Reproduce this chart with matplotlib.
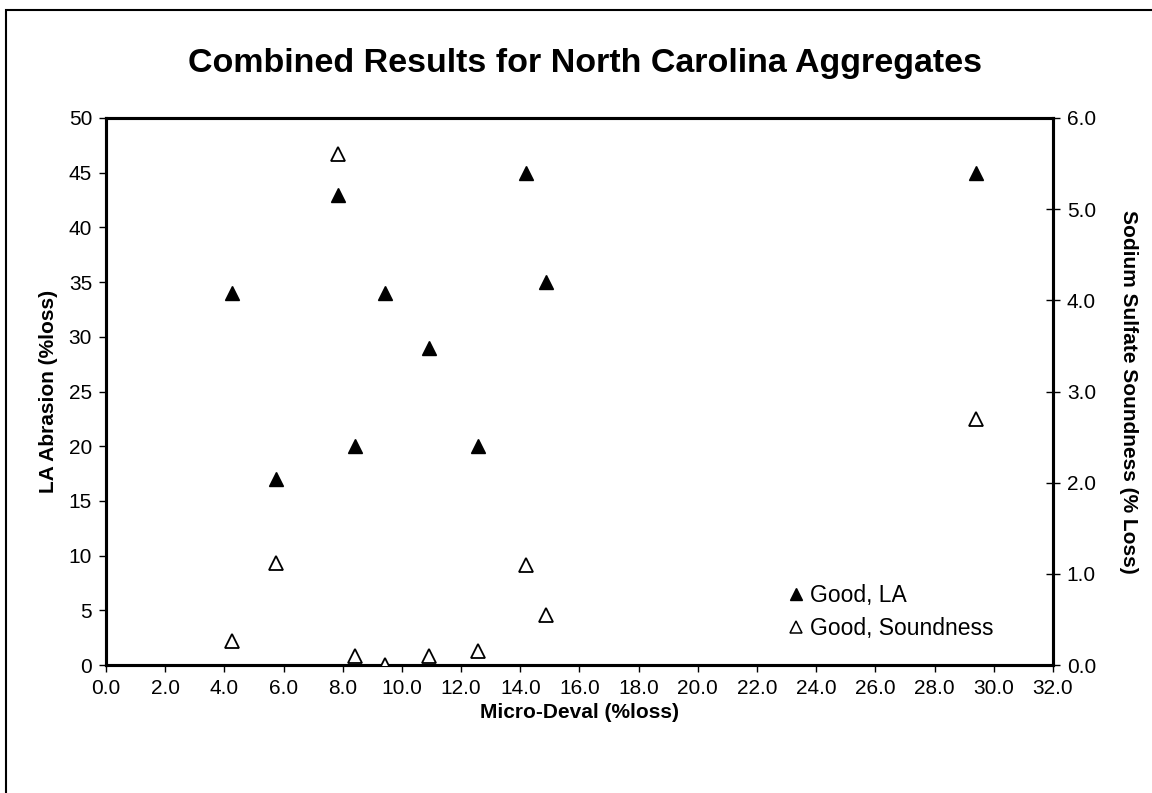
import matplotlib
matplotlib.use("Agg")
import matplotlib.pyplot as plt
from matplotlib.lines import Line2D
from matplotlib.ticker import FormatStrFormatter

plt.rcParams['font.family'] = ['Liberation Sans', 'DejaVu Sans']

# Micro-Deval (%loss) for each aggregate
micro_deval = [4.25, 5.75, 7.85, 8.4, 9.42, 10.9, 12.56, 14.2, 14.87, 29.4]
# LA Abrasion (%loss), left axis
la_abrasion = [34, 17, 43, 20, 34, 29, 20, 45, 35, 45]
# Sodium sulfate soundness (% loss), right axis
soundness = [0.26, 1.12, 5.6, 0.1, 0.0, 0.1, 0.15, 1.1, 0.55, 2.7]

x_ticks = [i * 2.0 for i in range(17)]
left_ticks = list(range(0, 51, 5))
right_ticks = [0.0, 1.0, 2.0, 3.0, 4.0, 5.0, 6.0]

fig = plt.figure(figsize=(11.52, 7.93), dpi=100)
ax = fig.add_axes([0.092, 0.1614, 0.822, 0.6898])
ax2 = ax.twinx()

ax.plot(micro_deval, la_abrasion, linestyle='none', marker='^', ms=9.5,
        color='black', mec='black', zorder=3)
ax2.plot(micro_deval, soundness, linestyle='none', marker='^', ms=9.5,
         mfc='white', mec='black', mew=1.3, zorder=3)

ax.set_xlim(0, 32)
ax.set_ylim(0, 50)
ax2.set_ylim(0, 6)
ax.set_xticks(x_ticks)
ax.xaxis.set_major_formatter(FormatStrFormatter('%.1f'))
ax.set_yticks(left_ticks)
ax2.set_yticks(right_ticks)
ax2.yaxis.set_major_formatter(FormatStrFormatter('%.1f'))

for a in (ax, ax2):
    for s in a.spines.values():
        s.set_linewidth(2.2)
ax.tick_params(axis='both', direction='out', length=5, width=1, labelsize=15, pad=5)
ax2.tick_params(axis='y', direction='inout', length=10, width=1, labelsize=15, pad=5)

ax.set_xlabel('Micro-Deval (%loss)', fontsize=15, fontweight='bold', labelpad=4)
ax.set_ylabel('LA Abrasion (%loss)', fontsize=15, fontweight='bold', labelpad=8)
ax2.set_ylabel('Sodium Sulfate Soundness (% Loss)', fontsize=15, fontweight='bold',
               rotation=270, labelpad=30)

fig.text(0.508, 0.92, 'Combined Results for North Carolina Aggregates',
         ha='center', va='center', fontsize=24.5, fontweight='bold')

handles = [
    Line2D([], [], linestyle='none', marker='^', ms=8.5, color='black'),
    Line2D([], [], linestyle='none', marker='^', ms=8.5, mfc='white', mec='black', mew=1.1),
]
fig.legend(handles, ['Good, LA', 'Good, Soundness'], loc='upper left',
           bbox_to_anchor=(0.677, 0.275), frameon=False, fontsize=16.5,
           handlelength=0.6, handletextpad=0.3, labelspacing=0.45, borderaxespad=0)

# outer chart border (runs off the right and bottom edges)
fig.add_artist(plt.Rectangle((6 / 1152, -0.1), 1.2, 1.1 - 10 / 793,
                             transform=fig.transFigure, fill=False,
                             lw=1.5, ec='black'))

fig.savefig('out.png', dpi=100)
